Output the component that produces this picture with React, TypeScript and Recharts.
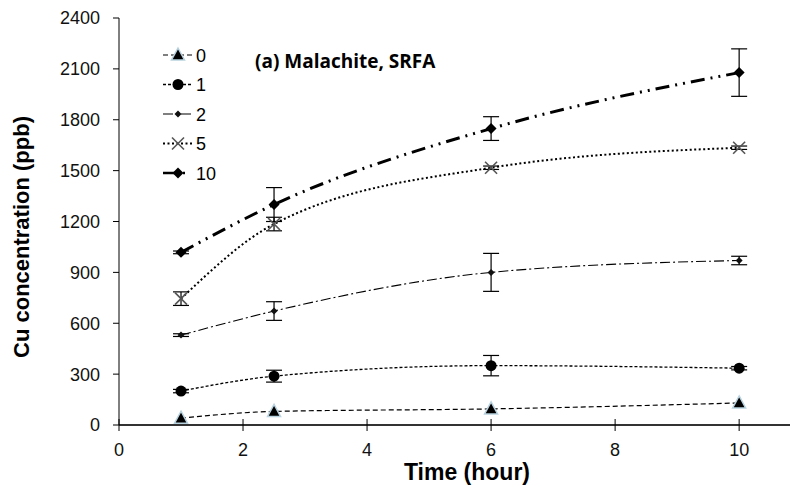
import React from 'react';
import {
  LineChart, Line, XAxis, YAxis, ErrorBar,
} from 'recharts';

const hours = [1, 2.5, 6, 10];
const cu0 = [40, 80, 95, 130];
const cu1 = [200, 288, 350, 335];
const cu2 = [530, 672, 900, 970];
const cu5 = [745, 1185, 1517, 1635];
const cu10 = [1018, 1300, 1748, 2078];

const err1 = [10, 35, 60, 10];
const err2 = [8, 55, 112, 25];
const err5 = [40, 40, 10, 10];
const err10 = [8, 100, 70, 140];

const xTicks = [0, 2, 4, 6, 8, 10];
const yTicks = [0, 300, 600, 900, 1200, 1500, 1800, 2100, 2400];

const data = hours.map((t, i) => ({
  t,
  s0: cu0[i],
  s1: cu1[i], e1: err1[i],
  s2: cu2[i], e2: err2[i],
  s5: cu5[i], e5: err5[i],
  s10: cu10[i], e10: err10[i],
}));

const FONT = '"Liberation Sans", Arial, sans-serif';

type Marker = 'triangle' | 'circle' | 'smallDiamond' | 'cross' | 'diamond';

function drawMarker(kind: Marker, cx: number, cy: number, key?: string) {
  switch (kind) {
    case 'triangle':
      return <path key={key} d={`M${cx},${cy - 7} L${cx + 6.5},${cy + 5} L${cx - 6.5},${cy + 5} Z`} fill="#000" stroke="#b9d3e0" strokeWidth={1.5} />;
    case 'circle':
      return <circle key={key} cx={cx} cy={cy} r={5.5} fill="#000" />;
    case 'smallDiamond':
      return <path key={key} d={`M${cx},${cy - 3.5} L${cx + 3.5},${cy} L${cx},${cy + 3.5} L${cx - 3.5},${cy} Z`} fill="#111" />;
    case 'cross':
      return (
        <g key={key} stroke="#555" strokeWidth={1.6}>
          <line x1={cx - 6} y1={cy - 6} x2={cx + 6} y2={cy + 6} />
          <line x1={cx - 6} y1={cy + 6} x2={cx + 6} y2={cy - 6} />
        </g>
      );
    case 'diamond':
      return <path key={key} d={`M${cx},${cy - 5.5} L${cx + 5.5},${cy} L${cx},${cy + 5.5} L${cx - 5.5},${cy} Z`} fill="#000" />;
  }
}

const series: { key: string; err?: string; name: string; dash: string; width: number; marker: Marker }[] = [
  { key: 's0', name: '0', dash: '5 3', width: 1.2, marker: 'triangle' },
  { key: 's1', err: 'e1', name: '1', dash: '3 2', width: 1.3, marker: 'circle' },
  { key: 's2', err: 'e2', name: '2', dash: '10 3 2 3', width: 1.1, marker: 'smallDiamond' },
  { key: 's5', err: 'e5', name: '5', dash: '2 2.5', width: 2, marker: 'cross' },
  { key: 's10', err: 'e10', name: '10', dash: '14 6 2 6 2 6', width: 3, marker: 'diamond' },
];

// legend drawn as an overlay so it doesn't shift the plot area
function LegendBox() {
  return (
    <svg width={70} height={150} style={{ display: 'block' }}>
      {series.map((s, i) => {
        const cy = 13 + i * 29.5;
        return (
          <g key={s.key}>
            <line x1={3} x2={33} y1={cy} y2={cy} stroke="#000" strokeWidth={Math.min(s.width, 2.5)} strokeDasharray={s.key === 's10' ? '14 6 2' : s.dash} />
            {drawMarker(s.marker, 18, cy)}
            <text x={36} y={cy + 6.5} fontSize={18} fontFamily={FONT} fill="#000">{s.name}</text>
          </g>
        );
      })}
    </svg>
  );
}

function XTick(props: any) {
  const { x, y, payload } = props;
  const axisY = y - 8;
  return (
    <g>
      <line x1={x} x2={x} y1={axisY - 6} y2={axisY + 6} stroke="#000" strokeWidth={1} />
      <text x={x} y={axisY + 31} textAnchor="middle" fontSize={18} fontFamily={FONT} fill="#111">{payload.value}</text>
    </g>
  );
}

export default function App() {
  return (
    <div style={{ position: 'absolute', left: 0, top: 0, width: 790, height: 487, background: '#fff' }}>
      <LineChart width={790} height={487} data={data} margin={{ top: 18, right: 0, bottom: 0, left: 0 }}>
        <XAxis
          type="number"
          dataKey="t"
          domain={[0, 10.82]}
          ticks={xTicks}
          allowDataOverflow
          height={62}
          stroke="#333"
          strokeWidth={2}
          tickLine={false}
          tickSize={6}
          tickMargin={2}
          tick={<XTick />}
          label={{
            value: 'Time (hour)',
            content: () => (
              <text x={467} y={480} textAnchor="middle" fontSize={23} fontWeight="bold" fontFamily={FONT} fill="#000">Time (hour)</text>
            ),
          }}
        />
        <YAxis
          type="number"
          domain={[0, 2400]}
          ticks={yTicks}
          width={119}
          stroke="#000"
          tickSize={6}
          tickMargin={13}
          tick={{ fontSize: 18, fontFamily: FONT, fill: '#111' }}
          label={{
            value: 'Cu concentration (ppb)',
            content: () => (
              <text x={29} y={237} transform="rotate(-90 29 237)" textAnchor="middle" fontSize={22} fontWeight="bold" fontFamily={FONT} fill="#000">Cu concentration (ppb)</text>
            ),
          }}
        />
        {series.map((s) => (
          <Line
            key={s.key}
            type="monotone"
            dataKey={s.key}
            name={s.name}
            stroke="#000"
            strokeWidth={s.width}
            strokeDasharray={s.dash}
            isAnimationActive={false}
            dot={(p: any) => drawMarker(s.marker, p.cx, p.cy, `${s.key}-${p.index}`)}
            activeDot={false}
          >
            {s.err && <ErrorBar dataKey={s.err} width={8} stroke="#000" strokeWidth={1.2} direction="y" />}
          </Line>
        ))}
        <text x={255} y={68} fontSize={19} fontWeight="bold" fontFamily='"Open Sans", "Liberation Sans", sans-serif' fill="#000">(a) Malachite, SRFA</text>
      </LineChart>
      <div style={{ position: 'absolute', left: 160, top: 42 }}>
        <LegendBox />
      </div>
    </div>
  );
}
